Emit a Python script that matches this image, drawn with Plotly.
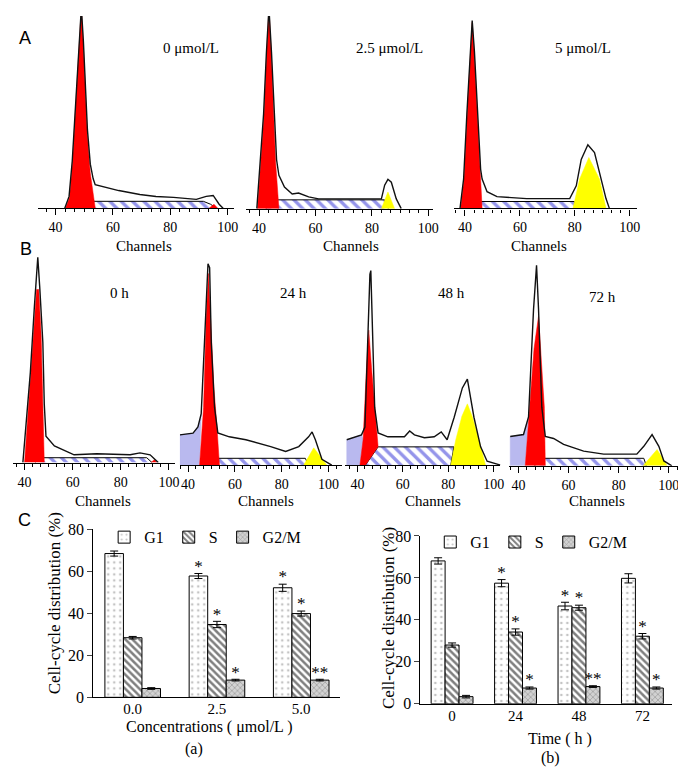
import plotly.graph_objects as go

# ------------------------------------------------------------------ DATA
CHANNEL_TICKS = [40, 60, 80, 100]
A_LABELS = ['0 μmol/L', '2.5 μmol/L', '5 μmol/L']
B_LABELS = ['0 h', '24 h', '48 h', '72 h']

# Panel A1 (0 umol/L)
A1_G1_CH = [43.45, 44.84, 45.87, 46.91, 47.94, 48.64, 48.98, 49.67, 50.36, 51.05, 52.09, 53.13, 53.82]
A1_G1_H = [0, 11, 46, 96, 156, 191, 205, 166, 116, 76, 36, 11, 0]
A1_S_CH = [49.0, 50.0, 91.5, 94.0, 96.0]
A1_S_H = [0, 7, 7, 4, 0]
A1_G2_CH = [93.5, 95.2, 96.5]
A1_G2_H = [0, 4, 0]
A1_TOT_CH = [43.2, 44.7, 45.8, 46.8, 47.9, 48.6, 48.98, 49.7, 50.4, 51.1, 52.1, 53.1, 53.8, 57.96, 62.0, 69.36,
             75.0, 81.1, 89.05, 92.5, 94.92, 96.99, 98.37]
A1_TOT_H = [0, 12, 48, 98, 158, 195, 205, 170, 120, 80, 45, 30, 24, 21, 18, 14, 12, 11, 9, 12, 13, 4, 0]

# Panel A2 (2.5 umol/L)
A2_G1_CH = [39.44, 40.6, 41.76, 42.7, 43.5, 44.3, 45.27, 45.87, 47.03]
A2_G1_H = [0, 47, 97, 160, 205, 160, 97, 47, 0]
A2_S_CH = [42.5, 43.5, 84.5, 85.8]
A2_S_H = [0, 9, 9, 0]
A2_G2_CH = [83.37, 85.69, 88.05]
A2_G2_H = [0, 17, 0]
A2_TOT_CH = [39.2, 40.45, 41.6, 42.6, 43.5, 44.4, 45.4, 46.2, 47.03, 49.0, 51.74, 54.0, 57.57, 61.09, 70.0,
             83.37, 84.53, 85.69, 86.89, 88.65, 90.4]
A2_TOT_H = [0, 47, 97, 160, 205, 160, 97, 50, 34, 22, 15, 16, 12, 10, 10, 10, 24, 30, 27, 10, 0]

# Panel A3 (5 umol/L)
A3_G1_CH = [38.45, 39.64, 40.83, 41.98, 42.63, 43.35, 44.44, 45.59, 46.24]
A3_G1_H = [0, 30, 97, 160, 190, 160, 97, 30, 0]
A3_S_CH = [41.5, 42.6, 79.9, 80.8]
A3_S_H = [0, 7, 7, 0]
A3_G2_CH = [79.32, 81.74, 85.09, 88.95, 91.33]
A3_G2_H = [0, 30, 52, 30, 0]
A3_TOT_CH = [38.2, 39.5, 40.7, 41.9, 42.63, 43.45, 44.55, 45.7, 46.24, 48.04, 51.65, 62.47, 78.13, 80.51,
             82.32, 84.73, 87.15, 89.53, 91.33, 92.56]
A3_TOT_H = [0, 30, 97, 160, 192, 160, 97, 40, 30, 17, 12, 10, 10, 23, 50, 65, 57, 30, 10, 0]

# Panel B1 (0 h)
B1_G1_CH = [40.0, 42.7, 44.2, 45.0, 45.9, 46.9, 47.6, 48.2]
B1_G1_H = [0, 90, 150, 177, 177, 130, 60, 0]
B1_S_CH = [44.5, 45.5, 90.8, 93.0]
B1_S_H = [0, 5, 5, 0]
B1_G2_CH = [92.5, 94.0, 95.0]
B1_G2_H = [0, 3, 0]
B1_TOT_CH = [39.3, 42.4, 44.1, 45.1, 45.5, 46.3, 47.6, 48.2, 48.9, 52.4, 60.6, 70.0, 83.9, 88.0, 92.2, 95.6]
B1_TOT_H = [0, 92, 160, 200, 210, 180, 123, 60, 27, 17, 8, 9, 8, 10, 8, 0]

# Panel B2 (24 h)
B2_DEB_CH = [36.5, 36.5, 42.1, 44.2, 45.6, 44.9]
B2_DEB_H = [0, 31, 32.7, 39, 52, 0]
B2_G1_CH = [44.9, 46.6, 47.7, 48.7, 49.6, 51.0, 52.3, 53.4]
B2_G1_H = [0, 59, 150, 196, 150, 80, 40, 0]
B2_S_CH = [48.5, 49.2, 90.1, 91.5]
B2_S_H = [0, 7, 7, 0]
B2_G2_CH = [89.4, 93.7, 99.3]
B2_G2_H = [0, 17.7, 0]
B2_TOT_CH = [36.5, 42.1, 44.2, 45.6, 47.0, 48.5, 49.2, 49.9, 51.3, 52.7, 57.6, 64.7, 75.3, 81.7, 87.3, 91.5,
             93.0, 94.4, 97.2, 101.4]
B2_TOT_H = [31, 32.7, 39, 52.7, 126, 206, 202, 126, 59, 33, 29, 26, 19, 14, 19, 29, 34, 26, 6, 0]

# Panel B3 (48 h)
B3_DEB_CH = [35.3, 35.3, 41.8, 42.6, 41.1]
B3_DEB_H = [0, 26, 31, 26, 0]
B3_G1_CH = [41.1, 42.5, 44.0, 45.0, 46.2, 47.6, 49.1, 43.5]
B3_G1_H = [0, 26, 100, 138, 100, 59, 19, 0]
B3_S_CH = [43.5, 49.1, 82.5, 81.1]
B3_S_H = [0, 18.7, 18.7, 0]
B3_G2_CH = [81.1, 83.3, 86.0, 88.4, 90.5, 93.5, 96.4]
B3_G2_H = [0, 26, 50, 62.7, 50, 26, 0]
B3_TOT_CH = [35.3, 41.8, 43.3, 44.7, 45.5, 45.9, 46.9, 47.6, 49.1, 53.4, 60.7, 63.0, 65.1, 69.5, 73.8, 76.9,
             79.5, 82.6, 86.2, 88.4, 91.3, 94.2, 97.1, 103.0]
B3_TOT_H = [26, 31, 39, 126, 195, 199, 126, 59, 33, 29, 29, 35, 31, 28, 29, 34, 26, 49, 79, 88, 49, 19, 4, 0]

# Panel B4 (72 h)
B4_DEB_CH = [36.7, 36.7, 42.0, 44.0, 42.7]
B4_DEB_H = [0, 30, 32, 50, 0]
B4_G1_CH = [42.7, 44.4, 46.2, 48.0, 49.2, 50.3, 50.7]
B4_G1_H = [0, 60, 120, 153, 110, 60, 0]
B4_S_CH = [46.5, 47.3, 90.0, 91.0]
B4_S_H = [0, 7.7, 7.7, 0]
B4_G2_CH = [89.7, 95.3, 99.3]
B4_G2_H = [0, 16.7, 0]
B4_TOT_CH = [36.7, 42.0, 44.0, 45.3, 46.0, 47.2, 48.0, 49.3, 50.7, 54.0, 58.0, 66.0, 74.0, 87.2, 90.0, 93.3,
             96.0, 98.0, 101.2]
B4_TOT_H = [30, 32, 50, 120, 160, 205, 160, 60, 30, 28, 22, 15, 12, 12, 20, 32, 20, 5, 0]

# Panel C(a): concentrations
CONC = ['0.0', '2.5', '5.0']
G1_A = [68.5, 57.8, 52.2]
G1_A_ERR = [1.2, 1.2, 1.7]
S_A = [28.4, 34.7, 39.9]
S_A_ERR = [0.6, 1.5, 1.2]
G2M_A = [4.2, 8.2, 8.2]
G2M_A_ERR = [0.4, 0.4, 0.4]
G1_A_SIG = ['', '*', '*']
S_A_SIG = ['', '*', '*']
G2M_A_SIG = ['', '*', '**']

# Panel C(b): time
TIME = ['0', '24', '48', '72']
G1_B = [68.1, 57.5, 46.6, 59.8]
G1_B_ERR = [1.5, 1.7, 1.8, 2.2]
S_B = [28.0, 34.2, 45.8, 32.2]
S_B_ERR = [1.0, 1.5, 1.2, 1.3]
G2M_B = [3.4, 7.5, 8.2, 7.5]
G2M_B_ERR = [0.6, 0.5, 0.4, 0.5]
G1_B_SIG = ['', '*', '*', '']
S_B_SIG = ['', '*', '*', '*']
G2M_B_SIG = ['', '*', '**', '*']

SERIES = ['G1', 'S', 'G2/M']

# ------------------------------------------------------------------ LAYOUT HELPERS
W, H = 686, 770
SERIF = 'Liberation Serif'
SANS = 'Liberation Sans'


def fx(p):
    return p / W


def fy(p):
    return 1 - p / H


def note(text, px, py, size=16, family=SERIF, angle=0):
    return dict(text=text, x=fx(px), y=fy(py), xref='paper', yref='paper', showarrow=False,
                xanchor='center', yanchor='middle', textangle=angle,
                font=dict(family=family, size=size, color='black'))


fig = go.Figure()
layout = {}
annotations = []

RED = '#ff0000'
YELLOW = '#ffff00'
DEBRIS = '#b9b9ef'
HATCH_BLUE = '#2a2ad6'

# (axis index, x0 px, x1 px, top px, baseline px, px of channel 40, px of channel 100, title, title x, title y,
#  channels-label x, channels-label y, data)
HIST_PANELS = [
    (1, 30, 228.3, 0, 196.5, 48, 221.7, A_LABELS[0], 185, 33, 137, 235,
     dict(g1=(A1_G1_CH, A1_G1_H), s=(A1_S_CH, A1_S_H), g2=(A1_G2_CH, A1_G2_H), tot=(A1_TOT_CH, A1_TOT_H),
          g2color=RED)),
    (2, 240, 428.3, 0, 197, 253.3, 424, A_LABELS[1], 385, 33, 346, 235,
     dict(g1=(A2_G1_CH, A2_G1_H), s=(A2_S_CH, A2_S_H), g2=(A2_G2_CH, A2_G2_H), tot=(A2_TOT_CH, A2_TOT_H))),
    (3, 450, 635, 0, 196.7, 461, 627.3, A_LABELS[2], 580, 33, 536, 235,
     dict(g1=(A3_G1_CH, A3_G1_H), s=(A3_S_CH, A3_S_H), g2=(A3_G2_CH, A3_G2_H), tot=(A3_TOT_CH, A3_TOT_H))),
    (4, 5, 168.3, 240, 456.7, 16.7, 162.3, B_LABELS[0], 112, 283, 96, 496,
     dict(g1=(B1_G1_CH, B1_G1_H), s=(B1_S_CH, B1_S_H), g2=(B1_G2_CH, B1_G2_H), tot=(B1_TOT_CH, B1_TOT_H),
          g2color=RED)),
    (5, 173.3, 336.7, 240, 459.3, 181.7, 323.3, B_LABELS[1], 288, 283, 260, 496,
     dict(deb=(B2_DEB_CH, B2_DEB_H), g1=(B2_G1_CH, B2_G1_H), s=(B2_S_CH, B2_S_H), g2=(B2_G2_CH, B2_G2_H),
          tot=(B2_TOT_CH, B2_TOT_H))),
    (6, 340, 496.7, 240, 459.3, 352.5, 490, B_LABELS[2], 447, 283, 429, 496,
     dict(deb=(B3_DEB_CH, B3_DEB_H), g1=(B3_G1_CH, B3_G1_H), s=(B3_S_CH, B3_S_H), g2=(B3_G2_CH, B3_G2_H),
          tot=(B3_TOT_CH, B3_TOT_H))),
    (7, 505, 680, 240, 460, 515, 666.7, B_LABELS[3], 600, 287, 594, 496,
     dict(deb=(B4_DEB_CH, B4_DEB_H), g1=(B4_G1_CH, B4_G1_H), s=(B4_S_CH, B4_S_H), g2=(B4_G2_CH, B4_G2_H),
          tot=(B4_TOT_CH, B4_TOT_H))),
]

for (i, x0, x1, top, base, p40, p100, title, tx, ty, cx, cy, d) in HIST_PANELS:
    ppc = (p100 - p40) / 60.0
    ch0 = 40 + (x0 - p40) / ppc
    ch1 = 40 + (x1 - p40) / ppc
    xa, ya = 'x%d' % i, 'y%d' % i
    common = dict(xaxis=xa, yaxis=ya, showlegend=False, hoverinfo='skip', mode='lines')
    if 'deb' in d:
        fig.add_trace(go.Scatter(x=d['deb'][0], y=d['deb'][1], fill='toself', fillcolor=DEBRIS,
                                 line=dict(color=DEBRIS, width=0.5), **common))
    fig.add_trace(go.Scatter(x=d['s'][0], y=d['s'][1], fill='toself', fillcolor='white',
                             fillpattern=dict(shape='\\', fgcolor=HATCH_BLUE, bgcolor='white', size=8,
                                              solidity=0.42),
                             line=dict(color='black', width=1), **common))
    fig.add_trace(go.Scatter(x=d['g1'][0], y=d['g1'][1], fill='toself', fillcolor=RED,
                             line=dict(color=RED, width=0.5), **common))
    g2c = d.get('g2color', YELLOW)
    fig.add_trace(go.Scatter(x=d['g2'][0], y=d['g2'][1], fill='toself', fillcolor=g2c,
                             line=dict(color=g2c, width=0.5), **common))
    fig.add_trace(go.Scatter(x=d['tot'][0], y=d['tot'][1], line=dict(color='#111111', width=1.4), **common))

    layout['xaxis%d' % i] = dict(
        domain=[fx(x0), fx(x1)], anchor=ya, range=[ch0, ch1], showgrid=False, zeroline=False,
        showline=True, linecolor='black', linewidth=1.4, ticks='outside', ticklen=6, tickwidth=1,
        tickcolor='black', tickvals=CHANNEL_TICKS, ticktext=[str(v) for v in CHANNEL_TICKS],
        tickfont=dict(family=SERIF, size=14, color='black'), fixedrange=True,
        minor=dict(ticks='outside', ticklen=3, tickwidth=1, tickcolor='black', tick0=40, dtick=10 / 3,
                   showgrid=False))
    layout['yaxis%d' % i] = dict(domain=[fy(base), fy(top)], anchor=xa, range=[0, base - top],
                                 visible=False, fixedrange=True)
    annotations.append(note(title, tx, ty, size=15))
    annotations.append(note('Channels', cx, cy, size=15))

# panel letters
for letter, lx, ly in [('A', 17, 23), ('B', 18, 238), ('C', 17, 515)]:
    annotations.append(note(letter, lx, ly, size=18, family=SANS))

# ------------------------------------------------------------------ BAR CHARTS
PATTERNS = [
    dict(shape='.', fgcolor='#8a8a8a', bgcolor='white', size=6, solidity=0.15),
    dict(shape='\\', fgcolor='black', bgcolor='white', size=5, solidity=0.5),
    dict(shape='x', fgcolor='#6e6e6e', bgcolor='#d2d2d2', size=4, solidity=0.35),
]

BAR_PANELS = [
    (8, CONC, [G1_A, S_A, G2M_A], [G1_A_ERR, S_A_ERR, G2M_A_ERR], [G1_A_SIG, S_A_SIG, G2M_A_SIG],
     (86, 335, 525, 696.7), 125.8, 85.0, 'legend', 97, 533),
    (9, TIME, [G1_B, S_B, G2M_B], [G1_B_ERR, S_B_ERR, G2M_B_ERR], [G1_B_SIG, S_B_SIG, G2M_B_SIG],
     (416, 670, 531.7, 703.3), 448.0, 64.0, 'legend2', 426, 538),
]
BARGAP = 0.34
SLOT = (1 - BARGAP) / 3

for (i, cats, vals, errs, sigs, (x0, x1, top, bot), c0px, step, leg, legx, legy) in BAR_PANELS:
    xa, ya = 'x%d' % i, 'y%d' % i
    pos = list(range(len(cats)))
    for k, name in enumerate(SERIES):
        fig.add_trace(go.Bar(
            x=pos, y=vals[k], name=name, xaxis=xa, yaxis=ya, legend=leg,
            marker=dict(color='white', line=dict(color='black', width=1), pattern=PATTERNS[k]),
            error_y=dict(type='data', array=errs[k], color='black', thickness=1, width=4),
        ))
    # significance asterisks above each marked bar
    for k in range(3):
        sx, sy, st = [], [], []
        for j in pos:
            if sigs[k][j]:
                sx.append(j + (k - 1) * SLOT)
                sy.append(vals[k][j] + errs[k][j] - 1.2)
                st.append(sigs[k][j])
        fig.add_trace(go.Scatter(x=sx, y=sy, text=st, mode='text', textposition='top center',
                                 textfont=dict(family=SERIF, size=17, color='black'), xaxis=xa, yaxis=ya,
                                 showlegend=False, hoverinfo='skip', cliponaxis=False))
    layout['xaxis%d' % i] = dict(domain=[fx(x0), fx(x1)], anchor=ya,
                                 range=[(x0 - c0px) / step, (x1 - c0px) / step], showline=True,
                                 linecolor='black', linewidth=1, ticks='', showgrid=False, zeroline=False,
                                 tickvals=pos, ticktext=cats, ticklabelstandoff=-2,
                                 tickfont=dict(family=SERIF, size=15, color='black'), fixedrange=True)
    layout['yaxis%d' % i] = dict(domain=[fy(bot), fy(top)], anchor=xa, range=[0, 80], showline=True,
                                 linecolor='black', linewidth=1, ticks='outside', ticklen=5,
                                 tickvals=[0, 20, 40, 60, 80], showgrid=False, zeroline=False,
                                 tickfont=dict(family=SERIF, size=16, color='black'), fixedrange=True)
    layout[leg] = dict(orientation='h', x=fx(legx), y=fy(legy), xanchor='left',
                       yanchor='middle', xref='paper', yref='paper', bgcolor='rgba(0,0,0,0)',
                       font=dict(family=SERIF, size=16, color='black'),
                       itemwidth=30, traceorder='normal')

# axis titles and captions for the bar charts
for text, tx, ty, ang in [
    ('Cell-cycle distribution (%)', 47, 601, -90),
    ('Cell-cycle distribution (%)', 384, 616, -90),
    ('Concentrations ( μmol/L )', 203, 727, 0),
    ('(a)', 188, 750, 0),
    ('Time ( h )', 557, 739, 0),
    ('(b)', 547, 759, 0),
]:
    annotations.append(note(text, tx, ty, size=17 if ang else 16, angle=ang))

fig.update_layout(
    width=W, height=H, margin=dict(l=0, r=0, t=0, b=0), plot_bgcolor='white', paper_bgcolor='white',
    barmode='group', bargap=BARGAP, bargroupgap=0, annotations=annotations, **layout)

fig.write_html('out.html')
